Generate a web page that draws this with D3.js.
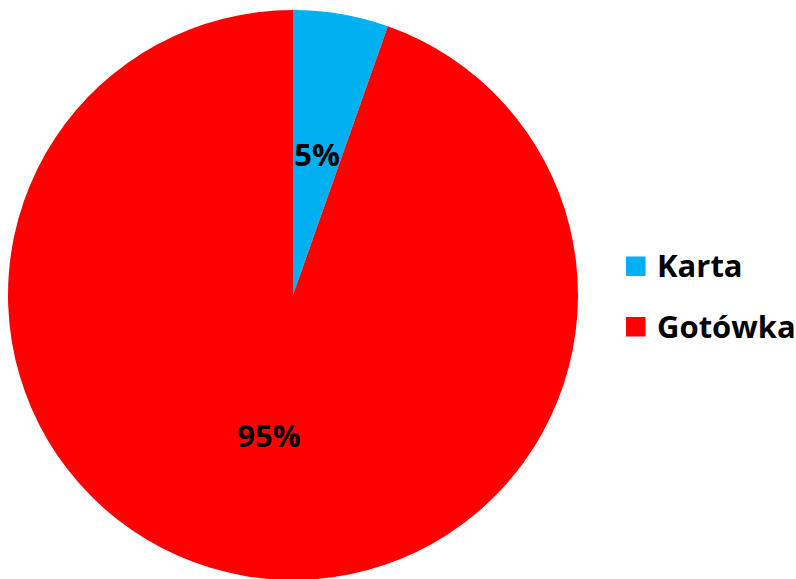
<!DOCTYPE html>
<html><head><meta charset="utf-8">
<script src="https://cdn.jsdelivr.net/npm/d3@7"></script>
<style>html,body{margin:0;padding:0;background:#fff;}svg{display:block;}</style>
</head><body>
<svg id="c" width="796" height="579"></svg>
<script>
const categories = ["Karta", "Gotówka"];
const values = [5.4, 94.6];
const colors = ["#00B0F0", "#FF0000"];

const svg = d3.select("#c");
const cx = 293, cy = 295, r = 285;
const font = "'Open Sans', sans-serif";

const data = categories.map((c, i) => ({cat: c, value: values[i], color: colors[i]}));
const pie = d3.pie().sort(null).value(d => d.value);
const arcs = pie(data);
const arc = d3.arc().innerRadius(0).outerRadius(r);
const labelArc = d3.arc().innerRadius(r * 0.5).outerRadius(r * 0.5);

const g = svg.append("g").attr("transform", `translate(${cx},${cy})`);
g.selectAll("path").data(arcs).join("path")
  .attr("d", arc).attr("fill", d => d.data.color);

const total = d3.sum(values);
g.selectAll("text").data(arcs).join("text")
  .attr("transform", d => { const [x, y] = labelArc.centroid(d); return `translate(${x},${y})`; })
  .attr("text-anchor", "middle").attr("dy", "0.36em")
  .style("font-family", font).style("font-weight", 700).style("font-size", "31px")
  .attr("fill", "#000")
  .text(d => Math.round(d.data.value / total * 100) + "%");

const legend = svg.append("g");
const ly = d3.scalePoint().domain(categories).range([266, 326.5]);
const items = legend.selectAll("g").data(data).join("g")
  .attr("transform", d => `translate(626,${ly(d.cat)})`);
items.append("rect").attr("x", 0).attr("y", -9.5).attr("width", 19.5).attr("height", 19.5)
  .attr("fill", d => d.color);
items.append("text").attr("x", 31).attr("dy", "0.36em")
  .style("font-family", font).style("font-weight", 700).style("font-size", "31px")
  .attr("fill", "#000").text(d => d.cat);
</script>
</body></html>
